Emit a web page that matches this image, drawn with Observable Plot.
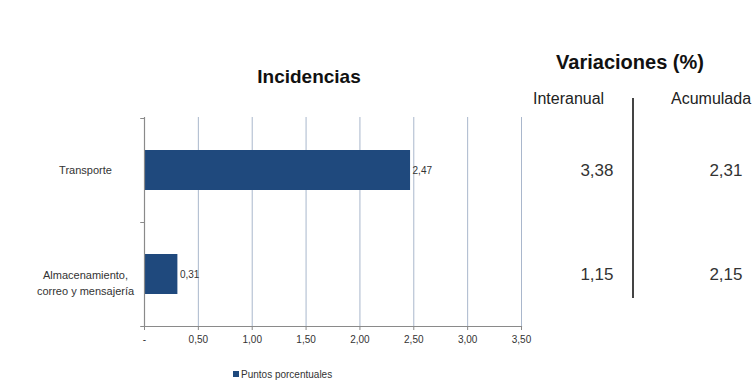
<!DOCTYPE html>
<html>
<head>
<meta charset="utf-8">
<script src="https://cdn.jsdelivr.net/npm/d3@7"></script>
<script src="https://cdn.jsdelivr.net/npm/@observablehq/plot@0.6"></script>
<style>
  html, body { margin: 0; padding: 0; background: #fff; }
  #wrap { position: relative; width: 754px; height: 387px; overflow: hidden;
          font-family: "Liberation Sans", Arial, sans-serif; color: #222; }
  .abs { position: absolute; white-space: nowrap; }
  #t1 { left: 255px; top: 66px; font-size: 19px; font-weight: bold; color: #111; width: 108px; text-align: center; }
  #t2 { left: 530px; top: 51px; font-size: 20px; font-weight: bold; color: #111; width: 200px; text-align: center; }
  .hdr { top: 90px; font-size: 16px; color: #222; }
  #sep { position: absolute; left: 632px; top: 98px; width: 2px; height: 200px; background: #444; }
  #legend { left: 233px; top: 369px; font-size: 10px; color: #333; }
  #legend span.sw { display: inline-block; width: 6px; height: 6px; background: #1F497D; margin-right: 2px; vertical-align: 1px; }
</style>
</head>
<body>
<div id="wrap"></div>
<script>
const categories = ["Transporte", "Almacenamiento,\ncorreo y mensajería"];
const incidencias = [2.47, 0.31];
const interanual = [3.38, 1.15];
const acumulada = [2.31, 2.15];
const xTicks = [0, 0.5, 1, 1.5, 2, 2.5, 3, 3.5];
const titleLeft = "Incidencias";
const titleRight = "Variaciones (%)";
const colHeaders = ["Interanual", "Acumulada"];
const legendLabel = "Puntos porcentuales";

const data = categories.map((c, i) => ({
  category: c, value: incidencias[i], inter: interanual[i], acum: acumulada[i]
}));

const comma = (v, n) => v.toFixed(n).replace(".", ",");
const font = `"Liberation Sans", Arial, sans-serif`;
const single = data.filter(d => !d.category.includes("\n"));
const multi = data.filter(d => d.category.includes("\n"));

const chart = Plot.plot({
  width: 754,
  height: 387,
  marginLeft: 144,
  marginRight: 233,
  marginTop: 117,
  marginBottom: 61,
  style: { fontFamily: font, background: "transparent", overflow: "visible" },
  x: { domain: [0, 3.5], label: null },
  y: { domain: categories, paddingInner: 0.62, paddingOuter: 0.31, label: null },
  marks: [
    Plot.gridX(xTicks.filter(d => d > 0), { stroke: "#a9b7cc", strokeOpacity: 1, strokeWidth: 1 }),
    Plot.barX(data, { x: "value", y: "category", fill: "#1F497D" }),
    Plot.text(data, { x: "value", y: "category", text: d => comma(d.value, 2), textAnchor: "start", dx: 2, fontSize: 10, fill: "#333" }),
    Plot.ruleX([0], { stroke: "#8a8a8a", strokeWidth: 1.2 }),
    Plot.frame({ anchor: "bottom", stroke: "#8a8a8a", strokeWidth: 1.2 }),
    Plot.ruleY(categories, { y: d => d, x1: -0.035, x2: 0, dy: -52, stroke: "#8a8a8a" }),
    Plot.ruleY([categories[categories.length - 1]], { y: d => d, x1: -0.035, x2: 0, dy: 52, stroke: "#8a8a8a" }),
    Plot.axisX({ ticks: xTicks, tickFormat: d => d === 0 ? "-" : comma(d, 2), tickSize: 4, tickPadding: 5, fontSize: 10, stroke: "#8a8a8a", color: "#333", label: null }),
    Plot.axisY({ ticks: [], label: null }),
    Plot.text(single, { y: "category", text: "category", frameAnchor: "left", dx: -59, textAnchor: "middle", fontSize: 11, fill: "#333" }),
    Plot.text(multi, { y: "category", text: "category", frameAnchor: "left", dx: -59, dy: 7, textAnchor: "middle", fontSize: 11, lineHeight: 1.45, fill: "#333" }),
    Plot.text(data, { y: "category", text: d => comma(d.inter, 2), frameAnchor: "right", textAnchor: "end", dx: 92, fontSize: 17, fill: "#333" }),
    Plot.text(data, { y: "category", text: d => comma(d.acum, 2), frameAnchor: "right", textAnchor: "end", dx: 221, fontSize: 17, fill: "#333" })
  ]
});

const wrap = document.getElementById("wrap");
wrap.appendChild(chart);
chart.style.position = "absolute";
chart.style.left = "0px";
chart.style.top = "0px";

function addDiv(id, cls, html, style) {
  const d = document.createElement("div");
  if (id) d.id = id;
  d.className = cls;
  d.innerHTML = html;
  if (style) Object.assign(d.style, style);
  wrap.appendChild(d);
  return d;
}
addDiv("t1", "abs", titleLeft);
addDiv("t2", "abs", titleRight);
addDiv(null, "abs hdr", colHeaders[0], { left: "533px" });
addDiv(null, "abs hdr", colHeaders[1], { left: "671px" });
addDiv("sep", "", "");
addDiv("legend", "abs", `<span class="sw"></span>${legendLabel}`);
</script>
</body>
</html>
